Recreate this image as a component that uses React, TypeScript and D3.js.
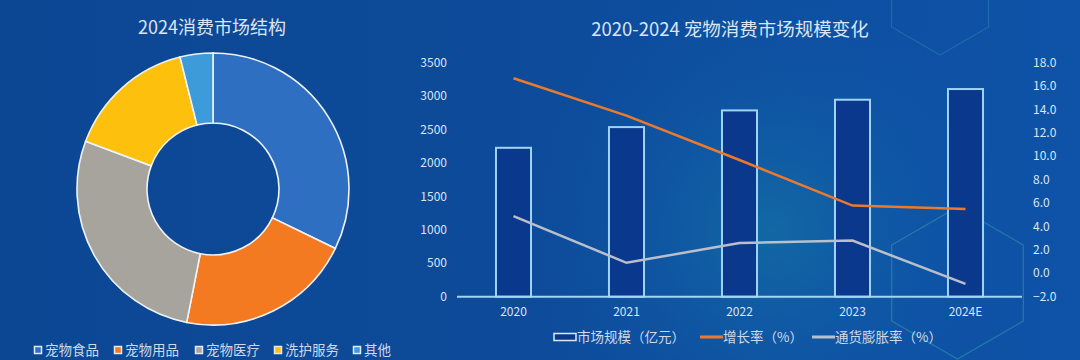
import React from "react";
import * as d3 from "d3";

const W = 1080;
const H = 360;

// Donut data
const pieCategories = ["宠物食品", "宠物用品", "宠物医疗", "洗护服务", "其他"];
const pieValues = [32.2, 20.9, 27.6, 15.4, 3.9];
const pieColors = ["#2f6fc2", "#f47a22", "#a7a49d", "#fdc00c", "#3c9bd8"];

// Combo chart data
const years = ["2020", "2021", "2022", "2023", "2024E"];
const marketSize = [2230, 2540, 2790, 2950, 3110];
const growthRate = [16.7, 13.5, 9.7, 5.8, 5.5];
const inflationRate = [4.9, 0.9, 2.6, 2.8, -0.9];
const leftTicks = [0, 500, 1000, 1500, 2000, 2500, 3000, 3500];
const rightTicks = [-2, 0, 2, 4, 6, 8, 10, 12, 14, 16, 18];

const font = "'Noto Sans CJK SC', 'Noto Sans', sans-serif";
const textColor = "#dbe5f3";

function hexPoints(cx: number, cy: number, r: number) {
  const pts: string[] = [];
  for (let i = 0; i < 6; i++) {
    const a = (Math.PI / 3) * i - Math.PI / 2;
    pts.push(`${cx + r * Math.cos(a)},${cy + r * Math.sin(a)}`);
  }
  return pts.join(" ");
}

export default function App() {
  // Donut
  const cx = 213, cy = 189;
  const pie = d3.pie<number>().sort(null).value((d) => d)(pieValues);
  const arc = d3.arc<d3.PieArcDatum<number>>().innerRadius(66).outerRadius(136);

  // Combo
  const x = d3.scaleBand<string>().domain(years).range([457, 1022]).padding(0);
  const yL = d3.scaleLinear().domain([0, 3500]).range([296.7, 63]);
  const yR = d3.scaleLinear().domain([-2, 18]).range([296.7, 63]);
  const barW = x.bandwidth() * 0.31;
  const xc = (d: string) => (x(d) as number) + x.bandwidth() / 2;
  const line = d3.line<number>().x((_, i) => xc(years[i])).y((d) => yR(d));

  const legendX = [38, 118, 199, 278, 357];

  return (
    <svg
      width={W}
      height={H}
      style={{ position: "fixed", left: 0, top: 0, display: "block" }}
      fontFamily={font}
    >
      <defs>
        <linearGradient id="bg" x1="0" y1="0" x2="1" y2="0">
          <stop offset="0" stopColor="#0c4794" />
          <stop offset="0.4" stopColor="#0d4a98" />
          <stop offset="1" stopColor="#0e53a8" />
        </linearGradient>
        <radialGradient id="glow" cx="770" cy="230" r="260" gradientUnits="userSpaceOnUse">
          <stop offset="0" stopColor="#1a93a8" stopOpacity="0.38" />
          <stop offset="0.5" stopColor="#1470b0" stopOpacity="0.2" />
          <stop offset="1" stopColor="#0e52a6" stopOpacity="0" />
        </radialGradient>
      </defs>
      <rect x={0} y={0} width={W} height={H} fill="url(#bg)" />
      <rect x={400} y={0} width={680} height={H} fill="url(#glow)" />

      {/* decorative hexagons */}
      <polygon points={hexPoints(940, -1, 56)} fill="none" stroke="#3fa6b8" strokeOpacity={0.3} strokeWidth={1.2} />
      <polygon points={hexPoints(957.5, 283, 76)} fill="none" stroke="#3fb0a8" strokeOpacity={0.45} strokeWidth={1.2} />

      {/* Left title */}
      <text x={212} y={34} textAnchor="middle" fontSize={18} fill={textColor}>
        2024消费市场结构
      </text>

      {/* Donut */}
      <g transform={`translate(${cx},${cy})`}>
        {pie.map((p, i) => (
          <path key={i} d={arc(p) as string} fill={pieColors[i]} stroke="#eef3f8" strokeWidth={1.6} />
        ))}
      </g>

      {/* Donut legend */}
      {pieCategories.map((c, i) => (
        <g key={c}>
          <rect x={legendX[i] - 3.5} y={346.5} width={7} height={7} fill={pieColors[i]} stroke="#e3e9f1" strokeWidth={1.5} />
          <text x={legendX[i] + 7} y={355} fontSize={13.5} fill="#cfd9e8">
            {c}
          </text>
        </g>
      ))}

      {/* Right title */}
      <text x={730} y={36} textAnchor="middle" fontSize={18.5} fill={textColor}>
        2020-2024 宠物消费市场规模变化
      </text>

      {/* Left axis ticks */}
      {leftTicks.map((t) => (
        <text key={t} x={447} y={yL(t) + 4} textAnchor="end" fontSize={12} fill={textColor}>
          {t}
        </text>
      ))}
      {/* Right axis ticks */}
      {rightTicks.map((t) => (
        <text key={t} x={1033} y={yR(t) + 4} textAnchor="start" fontSize={12} fill={textColor}>
          {d3.format(".1f")(t)}
        </text>
      ))}

      {/* Bars */}
      {years.map((yv, i) => (
        <rect
          key={yv}
          x={xc(yv) - barW / 2}
          y={yL(marketSize[i])}
          width={barW}
          height={yL(0) - yL(marketSize[i])}
          fill="#0a388c"
          stroke="#9fd4f4"
          strokeWidth={2}
        />
      ))}

      {/* Axis line */}
      <line x1={457} x2={1022} y1={yL(0)} y2={yL(0)} stroke="#a3d6f4" strokeWidth={2} />

      {/* Lines */}
      <path d={line(growthRate) as string} fill="none" stroke="#ec7a2c" strokeWidth={2.5} />
      <path d={line(inflationRate) as string} fill="none" stroke="#b9bfcb" strokeWidth={2.5} />

      {/* X labels */}
      {years.map((yv) => (
        <text key={yv} x={xc(yv)} y={316} textAnchor="middle" fontSize={12} fill={textColor}>
          {yv}
        </text>
      ))}

      {/* Combo legend */}
      <rect x={554} y={333.5} width={22} height={7} fill="#0a388c" stroke="#dfe9f5" strokeWidth={1.5} />
      <text x={577} y={342} fontSize={13.5} fill="#cfd9e8">市场规模（亿元）</text>
      <line x1={700} x2={723} y1={337} y2={337} stroke="#ec7a2c" strokeWidth={3} />
      <text x={723} y={342} fontSize={13.5} fill="#cfd9e8">增长率（%）</text>
      <line x1={812} x2={835} y1={337} y2={337} stroke="#b9bfcb" strokeWidth={3} />
      <text x={835} y={342} fontSize={13.5} fill="#cfd9e8">通货膨胀率（%）</text>
    </svg>
  );
}
